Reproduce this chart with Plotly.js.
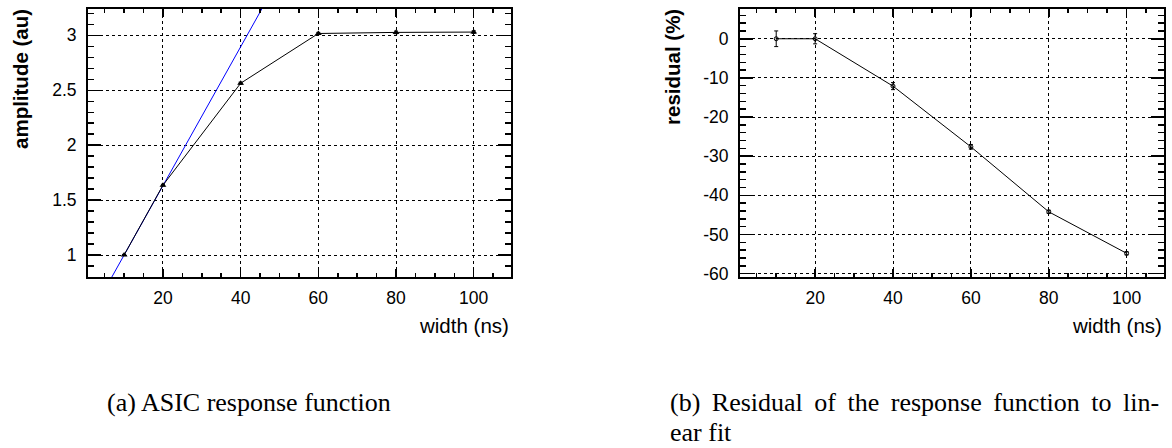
<!DOCTYPE html>
<html>
<head>
<meta charset="utf-8">
<script src="https://cdn.plot.ly/plotly-3.0.1.min.js"></script>
<style>
html,body{margin:0;padding:0;background:#fff;}
#chart{width:1172px;height:448px;}
g.annotation[data-index="5"] text.annotation-text{word-spacing:5px;}
</style>
</head>
<body>
<div id="chart"></div>
<script>
// ---- data ----
const widthNs = [10, 20, 40, 60, 80, 100];
const amplitude = [1.0, 1.636, 2.564, 3.017, 3.027, 3.030];
const amplitudeErr = [0.005, 0.008, 0.010, 0.010, 0.012, 0.012];
const fitSlope = 0.0632;
const fitIntercept = 0.368;
const fitRangeX = [0, 60];
const residual = [0.0, 0.0, -12.1, -27.6, -44.2, -54.8];
const residualErr = [2.0, 1.3, 0.9, 0.6, 0.4, 0.4];
const xTickVals = [20, 40, 60, 80, 100];
const leftTickVals = [1, 1.5, 2, 2.5, 3];
const rightTickVals = [0, -10, -20, -30, -40, -50, -60];
const rightTickText = ['0', '-10', '-20', '-30', '-40', '-50', '-60'];
const captionA = '(a) ASIC response function';
const captionB1 = '(b) Residual of the response function to lin-';
const captionB2 = 'ear fit';

const W = 1172, H = 448;
const px = x => x / W;
const py = y => 1 - y / H;

const fitY = fitRangeX.map(x => fitIntercept + fitSlope * x);

const sans = 'Liberation Sans, Arial, sans-serif';
const serif = 'Liberation Serif, Times New Roman, serif';

const traces = [
  {x: fitRangeX, y: fitY, mode: 'lines', line: {color: '#0000ff', width: 1}, xaxis: 'x', yaxis: 'y', hoverinfo: 'skip'},
  {x: widthNs, y: amplitude, mode: 'lines+markers', line: {color: 'black', width: 1},
   marker: {symbol: 'triangle-up', size: 6, color: 'black'},
   error_y: {type: 'data', array: amplitudeErr, color: 'black', thickness: 1, width: 2},
   xaxis: 'x', yaxis: 'y'},
  {x: widthNs, y: residual, mode: 'lines+markers', line: {color: 'black', width: 1},
   marker: {symbol: 'circle-open', size: 4, color: 'black', line: {width: 1}},
   error_y: {type: 'data', array: residualErr, color: 'black', thickness: 1, width: 2},
   xaxis: 'x2', yaxis: 'y2'}
];

function xAx(domain) {
  return {
    domain: domain, range: [0.7, 109.6], tickvals: xTickVals,
    showline: true, linecolor: 'black', linewidth: 2, mirror: 'ticks',
    ticks: 'inside', ticklen: 8, tickwidth: 1.5, tickcolor: 'black',
    showgrid: true, gridcolor: 'black', griddash: 'dot', gridwidth: 1,
    zeroline: false, ticklabelstandoff: 4,
    tickfont: {family: sans, size: 17.5, color: 'black'},
    minor: {dtick: 5, tick0: 0, ticks: 'inside', ticklen: 4, tickwidth: 1.5, tickcolor: 'black', showgrid: false}
  };
}
function yAx(range, tickvals, ticktext, minorDtick) {
  const a = {
    domain: [py(277), py(9)], range: range, tickvals: tickvals,
    showline: true, linecolor: 'black', linewidth: 2, mirror: 'ticks',
    ticks: 'inside', ticklen: 12.7, tickwidth: 1.5, tickcolor: 'black',
    showgrid: true, gridcolor: 'black', griddash: 'dot', gridwidth: 1,
    zeroline: false, ticklabelstandoff: 6,
    tickfont: {family: sans, size: 17.5, color: 'black'},
    minor: {dtick: minorDtick, tick0: 0, ticks: 'inside', ticklen: 6.3, tickwidth: 1.5, tickcolor: 'black', showgrid: false}
  };
  if (ticktext) a.ticktext = ticktext;
  return a;
}

const xa = xAx([px(88), px(511)]); xa.anchor = 'y';
const xb = xAx([px(740), px(1164)]); xb.anchor = 'y2';
const ya = yAx([0.8, 3.24], leftTickVals, null, 0.1); ya.anchor = 'x';
const yb = yAx([-60.85, 7.6], rightTickVals, rightTickText, 2); yb.anchor = 'x2';

const layout = {
  width: W, height: H, margin: {l: 0, r: 0, t: 0, b: 0},
  paper_bgcolor: 'white', plot_bgcolor: 'white', showlegend: false,
  xaxis: xa, yaxis: ya, xaxis2: xb, yaxis2: yb,
  annotations: [
    {text: 'width (ns)', xref: 'paper', yref: 'paper', x: px(511), y: py(325), xanchor: 'right', yanchor: 'middle', showarrow: false, font: {family: sans, size: 20.5, color: 'black'}},
    {text: 'width (ns)', xref: 'paper', yref: 'paper', x: px(1164), y: py(325), xanchor: 'right', yanchor: 'middle', showarrow: false, font: {family: sans, size: 20.5, color: 'black'}},
    {text: '<b>amplitude (au)</b>', xref: 'paper', yref: 'paper', x: px(20), y: py(7), xanchor: 'center', yanchor: 'top', textangle: -90, showarrow: false, font: {family: sans, size: 20.5, color: 'black'}},
    {text: '<b>residual (%)</b>', xref: 'paper', yref: 'paper', x: px(672), y: py(7), xanchor: 'center', yanchor: 'top', textangle: -90, showarrow: false, font: {family: sans, size: 20.5, color: 'black'}},
    {text: captionA, xref: 'paper', yref: 'paper', x: px(105), y: py(402), xanchor: 'left', yanchor: 'middle', align: 'left', showarrow: false, font: {family: serif, size: 26, color: 'black'}},
    {text: captionB1, xref: 'paper', yref: 'paper', x: px(668), y: py(402), xanchor: 'left', yanchor: 'middle', align: 'left', showarrow: false, font: {family: serif, size: 26, color: 'black'}},
    {text: captionB2, xref: 'paper', yref: 'paper', x: px(668), y: py(432), xanchor: 'left', yanchor: 'middle', align: 'left', showarrow: false, font: {family: serif, size: 26, color: 'black'}}
  ]
};

Plotly.newPlot('chart', traces, layout, {staticPlot: true, displayModeBar: false});
</script>
</body>
</html>
